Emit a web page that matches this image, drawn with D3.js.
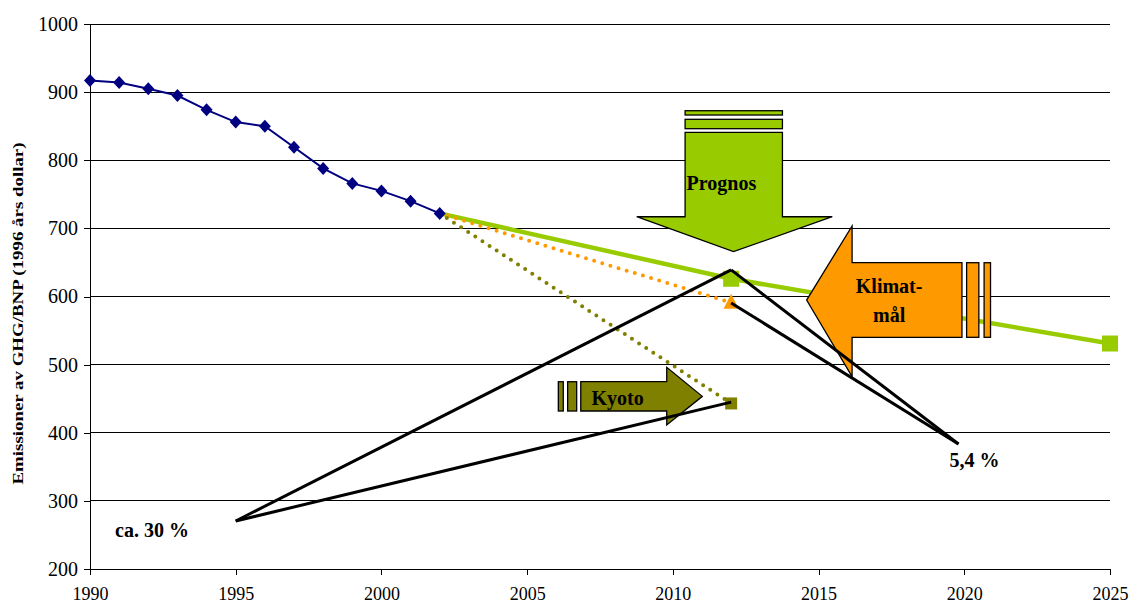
<!DOCTYPE html>
<html>
<head>
<meta charset="utf-8">
<script src="https://cdn.jsdelivr.net/npm/d3@7"></script>
<style>
  html, body { margin: 0; padding: 0; background: #fff; }
  svg { display: block; }
  text { font-family: "Liberation Serif", "Times New Roman", serif; }
</style>
</head>
<body>
<svg id="chart" width="1130" height="605"></svg>
<script>
// ---------- data ----------
const histYears = [1990, 1991, 1992, 1993, 1994, 1995, 1996, 1997, 1998, 1999, 2000, 2001, 2002];
const histValues = [917, 914, 905, 895, 874, 856, 850, 819, 788, 766, 755, 740, 722];

const prognosYears = [2002, 2012, 2025];
const prognosValues = [722, 626, 531];

const klimatYears = [2002, 2012];
const klimatValues = [722, 591];

const kyotoYears = [2002, 2012];
const kyotoValues = [722, 443];

const yTicks = [200, 300, 400, 500, 600, 700, 800, 900, 1000];
const xTicks = [1990, 1995, 2000, 2005, 2010, 2015, 2020, 2025];

// annotation lines (year, value)
const pctLines = [
  [[1995, 270.5], [2012, 639]],
  [[1995, 270.5], [2012, 445]],
  [[2012, 639], [2019.8, 383.5]],
  [[2012, 590.5], [2019.8, 383.5]]
];

// block arrows (year, value polygons)
const prognosArrow = [[2010.42, 841], [2013.76, 841], [2013.76, 717.1], [2015.47, 717.1], [2012.08, 665.8], [2008.76, 717.1], [2010.42, 717.1]];
const prognosStripes = [[[2010.42, 860.1], [2013.76, 846.3]], [[2010.42, 872.7], [2013.76, 866.4]]];

const klimatArrow = [[2019.92, 649.6], [2016.15, 649.6], [2016.15, 703.5], [2014.59, 594.8], [2016.15, 482.3], [2016.15, 540.1], [2019.92, 540.1]];
const klimatStripes = [[[2020.08, 649.6], [2020.50, 540.1]], [[2020.68, 649.6], [2020.90, 540.1]]];

const kyotoArrow = [[2006.84, 474.9], [2009.79, 474.9], [2009.79, 496.1], [2011.01, 453.4], [2009.79, 411.4], [2009.79, 431.9], [2006.84, 431.9]];
const kyotoStripes = [[[2006.07, 474.9], [2006.24, 431.9]], [[2006.39, 474.9], [2006.70, 431.9]]];

const labels = [
  { text: "Prognos", x: 2010.47, y: 756.3, anchor: "start" },
  { text: "Kyoto", x: 2007.21, y: 440.7, anchor: "start" },
  { text: "Klimat-", x: 2017.42, y: 605.6, anchor: "middle" },
  { text: "mål", x: 2017.42, y: 563.0, anchor: "middle" },
  { text: "5,4 %", x: 2019.49, y: 350.2, anchor: "start" },
  { text: "ca. 30 %", x: 1990.86, y: 246.5, anchor: "start" }
];

const yTitle = "Emissioner av GHG/BNP (1996 års dollar)";

// ---------- colours ----------
const NAVY = "#000080", GREEN = "#99CC00", ORANGE = "#FF9900", OLIVE = "#808000";

// ---------- scales ----------
const svg = d3.select("#chart");
const x = d3.scaleLinear().domain([1990, 2025]).range([90, 1110]);
const y = d3.scaleLinear().domain([200, 1000]).range([569, 24]);

// gridlines
svg.append("g").selectAll("line").data(yTicks.filter(d => d > 200)).join("line")
  .attr("x1", x(1990)).attr("x2", x(2025))
  .attr("y1", d => y(d)).attr("y2", d => y(d))
  .attr("stroke", "#000").attr("stroke-width", 1).attr("shape-rendering", "crispEdges");

// axes
const yAxis = svg.append("g").attr("transform", `translate(${x(1990)},0)`)
  .call(d3.axisLeft(y).tickValues(yTicks).tickSize(6).tickSizeOuter(0).tickPadding(6).tickFormat(d3.format("d")));
yAxis.selectAll("text").attr("font-size", 20).attr("fill", "#000")
  .style("font-family", '"Liberation Serif", "Times New Roman", serif');
yAxis.selectAll("line,path").attr("stroke", "#000").attr("shape-rendering", "crispEdges");

const xAxis = svg.append("g").attr("transform", `translate(0,${y(200)})`)
  .call(d3.axisBottom(x).tickValues(xTicks).tickSize(6).tickSizeOuter(0).tickFormat(d3.format("d")));
xAxis.selectAll("text").attr("font-size", 18).attr("fill", "#000").attr("y", 31).attr("dy", 0)
  .style("font-family", '"Liberation Serif", "Times New Roman", serif');
xAxis.selectAll("line,path").attr("stroke", "#000").attr("shape-rendering", "crispEdges");

// y title
const tx = 18, ty = (y(1000) + y(200)) / 2 + 17;
svg.append("text")
  .attr("transform", `translate(${tx},${ty}) rotate(-90)`)
  .attr("text-anchor", "middle").attr("dy", "0.35em")
  .attr("font-size", 15).attr("font-weight", "bold")
  .attr("textLength", 342).attr("lengthAdjust", "spacingAndGlyphs")
  .text(yTitle);

// ---------- series ----------
const line = d3.line().x(d => x(d[0])).y(d => y(d[1]));
const zip = (a, b) => a.map((v, i) => [v, b[i]]);

// prognos (green solid)
svg.append("path").datum(zip(prognosYears, prognosValues))
  .attr("d", line).attr("fill", "none").attr("stroke", GREEN).attr("stroke-width", 4.5);

// klimat (orange dotted)
svg.append("path").datum(zip(klimatYears, klimatValues))
  .attr("d", line).attr("fill", "none").attr("stroke", ORANGE).attr("stroke-width", 4)
  .attr("stroke-linecap", "round").attr("stroke-dasharray", "0 8.5");

// kyoto (olive dotted)
svg.append("path").datum(zip(kyotoYears, kyotoValues))
  .attr("d", line).attr("fill", "none").attr("stroke", OLIVE).attr("stroke-width", 4)
  .attr("stroke-linecap", "round").attr("stroke-dasharray", "0 8.5");

// historic (navy)
svg.append("path").datum(zip(histYears, histValues))
  .attr("d", line).attr("fill", "none").attr("stroke", NAVY).attr("stroke-width", 2);
svg.append("g").selectAll("path").data(zip(histYears, histValues)).join("path")
  .attr("transform", d => `translate(${x(d[0])},${y(d[1])})`)
  .attr("d", "M0,-6.5L6,0L0,6.5L-6,0Z").attr("fill", NAVY);

// markers
const sq = s => `M${-s},${-s}H${s}V${s}H${-s}Z`;
svg.append("g").selectAll("path").data(zip(prognosYears, prognosValues).slice(1)).join("path")
  .attr("transform", d => `translate(${x(d[0])},${y(d[1])})`)
  .attr("d", sq(8)).attr("fill", GREEN);
svg.append("g").selectAll("path").data(zip(kyotoYears, kyotoValues).slice(1)).join("path")
  .attr("transform", d => `translate(${x(d[0])},${y(d[1])})`)
  .attr("d", sq(6)).attr("fill", OLIVE);
svg.append("g").selectAll("path").data(zip(klimatYears, klimatValues).slice(1)).join("path")
  .attr("transform", d => `translate(${x(d[0])},${y(d[1])})`)
  .attr("d", "M0,-9L7.5,6L-7.5,6Z").attr("fill", ORANGE);

// ---------- block arrows ----------
const poly = pts => "M" + pts.map(p => `${x(p[0])},${y(p[1])}`).join("L") + "Z";
function blockArrow(shape, stripes, fill) {
  const g = svg.append("g");
  g.selectAll("rect").data(stripes).join("rect")
    .attr("x", d => Math.min(x(d[0][0]), x(d[1][0])))
    .attr("y", d => Math.min(y(d[0][1]), y(d[1][1])))
    .attr("width", d => Math.abs(x(d[1][0]) - x(d[0][0])))
    .attr("height", d => Math.abs(y(d[1][1]) - y(d[0][1])))
    .attr("fill", fill).attr("stroke", "#000").attr("stroke-width", 1.3);
  g.append("path").attr("d", poly(shape))
    .attr("fill", fill).attr("stroke", "#000").attr("stroke-width", 1.3).attr("stroke-linejoin", "miter");
}
blockArrow(prognosArrow, prognosStripes, GREEN);
blockArrow(klimatArrow, klimatStripes, ORANGE);
blockArrow(kyotoArrow, kyotoStripes, OLIVE);

// ---------- percentage lines ----------
svg.append("g").selectAll("path").data(pctLines).join("path")
  .attr("d", d => line(d)).attr("fill", "none").attr("stroke", "#000").attr("stroke-width", 3);

// ---------- labels ----------
svg.append("g").selectAll("text").data(labels).join("text")
  .attr("x", d => x(d.x)).attr("y", d => y(d.y))
  .attr("text-anchor", d => d.anchor)
  .attr("font-size", 20).attr("font-weight", "bold").attr("fill", "#000")
  .text(d => d.text);
</script>
</body>
</html>
